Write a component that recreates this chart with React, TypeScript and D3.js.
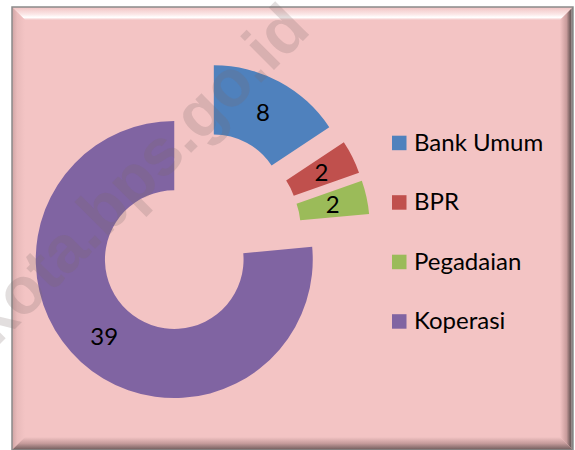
import React from "react";
import * as d3 from "d3";

const categories = ["Bank Umum", "BPR", "Pegadaian", "Koperasi"];
const values = [8, 2, 2, 39];
const colors = ["#4F81BD", "#C0504D", "#9BBB59", "#8064A2"];
const watermark = "kota.bps.go.id";

const W = 575;
const H = 450;
const cx = 197.5;
const cy = 234.1;
const outerR = 138.5;
const innerR = 69.3;
const explode = 34.5;
const pink = "#F3C4C4";
const FONT = "Lato, 'Open Sans', sans-serif";

export default function App() {
  const pie = d3.pie<number>().sort(null).value((d) => d).startAngle(0).endAngle(2 * Math.PI);
  const arcs = pie(values);
  const arc = d3.arc<d3.PieArcDatum<number>>().innerRadius(innerR).outerRadius(outerR);

  const fx0 = 12, fy0 = 7, fx1 = 573, fy1 = 450;
  const bw = 13;
  const ix0 = fx0 + bw, iy0 = fy0 + bw, ix1 = fx1 - bw, iy1 = fy1 - bw;

  const legendX = 392;
  const legendY0 = 135.7;
  const legendStep = 59.5;
  const sq = 14.5;

  return (
    <svg width={W} height={H} style={{ position: "absolute", left: 0, top: 0, display: "block" }}>
      <defs>
        <linearGradient id="gTop" x1="0" y1="0" x2="0" y2="1">
          <stop offset="0" stopColor="#F0C2C2" />
          <stop offset="0.55" stopColor="#FBE6E6" />
          <stop offset="0.8" stopColor="#FFFFFF" />
          <stop offset="1" stopColor={pink} />
        </linearGradient>
        <linearGradient id="gLeft" x1="0" y1="0" x2="1" y2="0">
          <stop offset="0" stopColor="#CFA4A4" />
          <stop offset="0.4" stopColor="#E9BBBB" />
          <stop offset="1" stopColor={pink} />
        </linearGradient>
        <linearGradient id="gRight" x1="0" y1="0" x2="1" y2="0">
          <stop offset="0" stopColor={pink} />
          <stop offset="0.5" stopColor="#C89C9C" />
          <stop offset="0.8" stopColor="#6E5A5A" />
          <stop offset="0.9" stopColor="#9A9090" />
          <stop offset="1" stopColor="#6A6A6A" />
        </linearGradient>
        <linearGradient id="gBottom" x1="0" y1="0" x2="0" y2="1">
          <stop offset="0" stopColor={pink} />
          <stop offset="0.5" stopColor="#C49A9A" />
          <stop offset="1" stopColor="#6E5A5A" />
        </linearGradient>
      </defs>
      <rect x={0} y={0} width={W} height={H} fill="#FFFFFF" />
      <rect x={fx0} y={fy0} width={fx1 - fx0} height={fy1 - fy0} fill={pink} />
      <polygon points={`${fx0},${fy0} ${fx1},${fy0} ${ix1},${iy0} ${ix0},${iy0}`} fill="url(#gTop)" />
      <polygon points={`${fx0},${fy0} ${ix0},${iy0} ${ix0},${iy1} ${fx0},${fy1}`} fill="url(#gLeft)" />
      <polygon points={`${fx1},${fy0} ${fx1},${fy1} ${ix1},${iy1} ${ix1},${iy0}`} fill="url(#gRight)" />
      <polygon points={`${fx0},${fy1} ${ix0},${iy1} ${ix1},${iy1} ${fx1},${fy1}`} fill="url(#gBottom)" />
      <rect x={fx0} y={fy0} width={fx1 - fx0} height={fy1 - fy0} fill="none" stroke="#8A8A8A" strokeWidth={1.5} />

      <g transform={`translate(${cx},${cy})`}>
        {arcs.map((a, i) => {
          const mid = (a.startAngle + a.endAngle) / 2;
          const dx = explode * Math.sin(mid);
          const dy = -explode * Math.cos(mid);
          const [lx, ly] = arc.centroid(a);
          return (
            <g key={categories[i]} transform={`translate(${dx},${dy})`}>
              <path d={arc(a) || ""} fill={colors[i]} />
              <text
                x={lx}
                y={ly}
                dy="0.36em"
                textAnchor="middle"
                fontFamily={FONT}
                fontSize={24}
                fill="#000"
              >
                {values[i]}
              </text>
            </g>
          );
        })}
      </g>

      <g>
        {categories.map((c, i) => {
          const y = legendY0 + i * legendStep;
          return (
            <g key={c}>
              <rect x={legendX} y={y} width={sq} height={sq} fill={colors[i]} />
              <text x={legendX + 22} y={y + sq + 0.5} fontFamily={FONT} fontSize={24} fill="#000">
                {c}
              </text>
            </g>
          );
        })}
      </g>

      <text
        transform="translate(-4,348) rotate(-45)"
        fontFamily="'Liberation Sans', Arial, sans-serif"
        fontWeight="bold"
        fontSize={66}
        fill="#7A6A6A"
        fillOpacity={0.22}
      >
        {watermark}
      </text>
    </svg>
  );
}
